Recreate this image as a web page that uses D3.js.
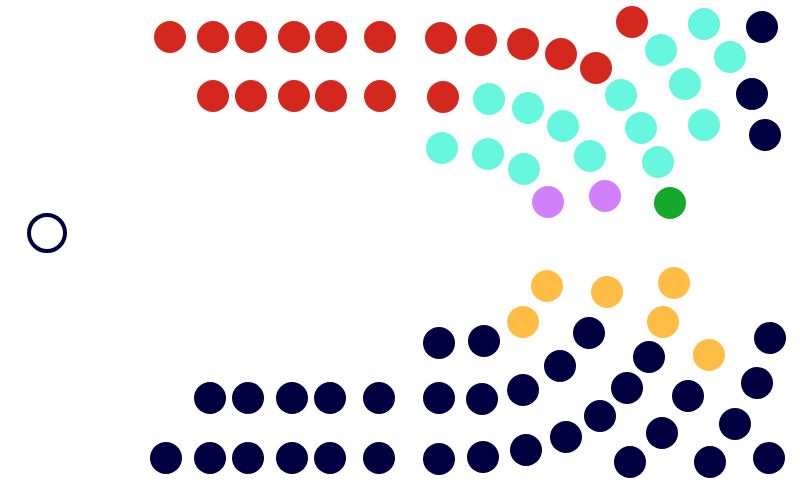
<!DOCTYPE html>
<html>
<head>
<meta charset="utf-8">
<script src="https://cdn.jsdelivr.net/npm/d3@7"></script>
<style>
html,body{margin:0;padding:0;background:#fff;}
svg{display:block;}
</style>
</head>
<body>
<div id="chart"></div>
<script>
// Parties (groups) and their colours
const parties = ["Red", "Turquoise", "Navy (upper)", "Purple", "Green", "Speaker", "Orange", "Navy (lower)"];
const colors  = ["#d4281f", "#66f7de", "#000041", "#d180fb", "#14a82d", "#000041", "#ffbd45", "#000041"];

// Seat locations (x, y in seat-plan units)
const redSeats = [[170,37],[213,37],[251,37],[294,37],[331,37],[380,37],[441,38],[481,40],[523,44],[561,54],[596,68],[632,22],
  [213,96],[251,96],[294,96],[331,96],[380,96],[443,97]];
const turquoiseSeats = [[704,24],[661,50],[730,57],[685,84],[621,95],[489,99],[528,108],[563,126],[641,128],[704,125],
  [442,148],[488,154],[590,156],[658,162],[524,169]];
const navyUpperSeats = [[762,27],[752,94],[765,135]];
const purpleSeats = [[548,202],[605,196]];
const greenSeats = [[670,203]];
const speakerSeats = [[47,233]];
const orangeSeats = [[547,286],[607,292],[674,283],[523,322],[663,322],[709,355]];
const navyLowerSeats = [[439,343],[484,341],[589,333],[770,338],[560,366],[649,357],[523,390],[627,388],[688,396],[757,383],
  [600,416],[735,424],[662,433],[566,437],[526,450],[439,398],[482,399],[439,459],[483,457],[630,462],[710,462],[769,458],
  [210,398],[248,398],[292,398],[330,398],[379,398],
  [166,458],[210,458],[248,458],[292,458],[330,458],[379,458]];

const seatGroups = [redSeats, turquoiseSeats, navyUpperSeats, purpleSeats, greenSeats, speakerSeats, orangeSeats, navyLowerSeats];

const W = 800, H = 487;
const svg = d3.select("#chart").append("svg").attr("width", W).attr("height", H);

const x = d3.scaleLinear().domain([0, 800]).range([0, W]);
const y = d3.scaleLinear().domain([0, 487]).range([0, H]);

const seats = [];
seatGroups.forEach((g, i) => g.forEach(p => seats.push({party: parties[i], color: colors[i], x: p[0], y: p[1], open: parties[i] === "Speaker"})));

svg.append("g").selectAll("circle").data(seats).join("circle")
  .attr("cx", d => x(d.x))
  .attr("cy", d => y(d.y))
  .attr("r", d => d.open ? 18 : 16)
  .attr("fill", d => d.open ? "none" : d.color)
  .attr("stroke", d => d.open ? d.color : "none")
  .attr("stroke-width", d => d.open ? 4 : 0);
</script>
</body>
</html>
